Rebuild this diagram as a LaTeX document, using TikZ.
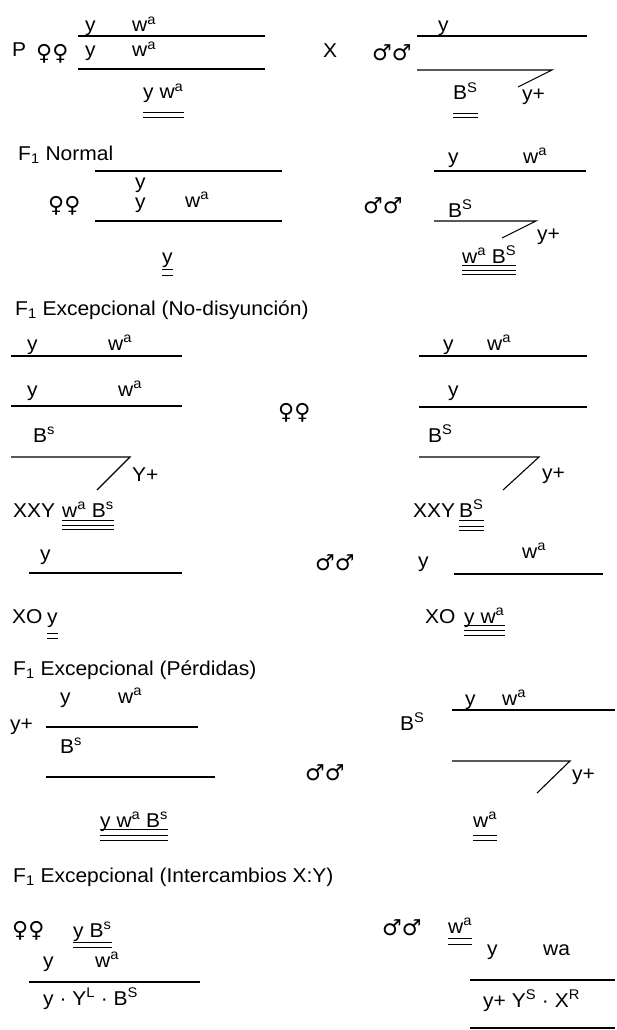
\documentclass[tikz,border=0pt]{standalone}
\usepackage{fontspec}
\setmainfont{Liberation Sans}[FakeStretch=1.05]
\newfontfamily\symf{DejaVu Sans}
\newcommand\sps[1]{\textsuperscript{#1}}
\newcommand\ulin[2]{\draw[ul] ([yshift=-#2pt]#1.base west) -- ([yshift=-#2pt]#1.base east);}
\begin{document}
\begin{tikzpicture}[x=1pt,y=-1pt,
  t/.style={anchor=base west,inner sep=0pt,font=\fontsize{20}{23}\selectfont},
  sym/.style={anchor=west,inner sep=0pt,font=\symf\fontsize{22}{26}\selectfont},
  ln/.style={line width=1.1pt},
  ul/.style={line width=0.9pt}]
\useasboundingbox (0,0) rectangle (617,1030);
% ---------- P ----------
\node[t] (P) at (12,57) {P};
\node[sym] (Pf) at (36,54) {♀♀};
\node[t] (P1) at (85,32) {y};
\node[t] (P2) at (132,32) {w\sps{a}};
\draw[ln] (78,36) -- (265,36);
\node[t] (P3) at (85,57) {y};
\node[t] (P4) at (132,57) {w\sps{a}};
\draw[ln] (78,69) -- (265,69);
\node[t] (P5) at (143,99) {y w\sps{a}};
\ulin{P5}{13} \ulin{P5}{18}
\node[t] (X) at (323,58) {X};
\node[sym] (Xm) at (372,53) {♂♂};
\node[t] (X1) at (438,32) {y};
\draw[ln] (417,36) -- (587,36);
\draw[ln] (417,70) -- (552,70) -- (518,87);
\node[t] (X2) at (453,100) {B\sps{S}};
\ulin{X2}{13} \ulin{X2}{17}
\node[t] (X3) at (522,101) {y+};
% ---------- F1 Normal ----------
\node[t] (N) at (18,160) {F\textsubscript{1} Normal};
\draw[ln] (95,171) -- (282,171);
\node[t] (N1) at (135,188) {y};
\node[t] (N2) at (135,208) {y};
\node[t] (N3) at (185,207) {w\sps{a}};
\node[sym] (Nf) at (48,206) {♀♀};
\draw[ln] (95,221) -- (282,221);
\node[t] (N4) at (162,263) {y};
\ulin{N4}{6} \ulin{N4}{12}
\node[t] (M1) at (448,163) {y};
\node[t] (M2) at (523,163) {w\sps{a}};
\draw[ln] (434,171) -- (586,171);
\node[sym] (Nm) at (363,206) {♂♂};
\node[t] (M3) at (448,217) {B\sps{S}};
\draw[ln] (434,221) -- (536,221) -- (502,238);
\node[t] (M4) at (537,240) {y+};
\node[t] (M5) at (462,263) {w\sps{a} B\sps{S}};
\ulin{M5}{2} \ulin{M5}{7} \ulin{M5}{11}
% ---------- No-disyuncion ----------
\node[t] (D) at (15,315) {F\textsubscript{1} Excepcional (No-disyunción)};
\node[t] (D1) at (27,350) {y};
\node[t] (D2) at (108,350) {w\sps{a}};
\draw[ln] (11,356) -- (182,356);
\node[t] (D3) at (27,396) {y};
\node[t] (D4) at (118,396) {w\sps{a}};
\draw[ln] (11,406) -- (182,406);
\node[t] (D5) at (33,442) {B\sps{s}};
\draw[ln] (11,457) -- (130,457) -- (97,490);
\node[t] (D6) at (132,481) {Y+};
\node[t] (D7) at (13,517) {XXY};
\node[t] (D8) at (62,517) {w\sps{a} B\sps{s}};
\ulin{D8}{3} \ulin{D8}{8} \ulin{D8}{12}
\node[sym] (Df) at (278,413) {♀♀};
\node[t] (E1) at (443,350) {y};
\node[t] (E2) at (487,350) {w\sps{a}};
\draw[ln] (419,356) -- (587,356);
\node[t] (E3) at (448,396) {y};
\draw[ln] (419,407) -- (587,407);
\node[t] (E4) at (428,442) {B\sps{S}};
\draw[ln] (419,457) -- (539,457) -- (503,490);
\node[t] (E5) at (542,479) {y+};
\node[t] (E6) at (413,517) {XXY};
\node[t] (E7) at (459,517) {B\sps{S}};
\ulin{E7}{3} \ulin{E7}{9} \ulin{E7}{13}
\node[t] (G1) at (40,560) {y};
\draw[ln] (29,573) -- (182,573);
\node[sym] (Gm) at (315,563) {♂♂};
\node[t] (G2) at (418,567) {y};
\node[t] (G3) at (522,558) {w\sps{a}};
\draw[ln] (454,574) -- (603,574);
\node[t] (G4) at (12,623) {XO};
\node[t] (G5) at (47,623) {y};
\ulin{G5}{10} \ulin{G5}{15}
\node[t] (G6) at (425,623) {XO};
\node[t] (G7) at (464,623) {y w\sps{a}};
\ulin{G7}{2} \ulin{G7}{7} \ulin{G7}{12}
% ---------- Perdidas ----------
\node[t] (L) at (13,675) {F\textsubscript{1} Excepcional (Pérdidas)};
\node[t] (L1) at (60,703) {y};
\node[t] (L2) at (118,703) {w\sps{a}};
\node[t] (L3) at (10,730) {y+};
\draw[ln] (46,727) -- (198,727);
\node[t] (L4) at (60,753) {B\sps{s}};
\draw[ln] (46,777) -- (215,777);
\node[t] (L5) at (100,827) {y w\sps{a} B\sps{s}};
\ulin{L5}{2} \ulin{L5}{8} \ulin{L5}{13}
\node[sym] (Lm) at (305,773) {♂♂};
\node[t] (R1) at (400,730) {B\sps{S}};
\node[t] (R2) at (465,705) {y};
\node[t] (R3) at (502,705) {w\sps{a}};
\draw[ln] (452,710) -- (615,710);
\draw[ln] (452,761) -- (570,761) -- (537,793);
\node[t] (R4) at (572,780) {y+};
\node[t] (R5) at (473,827) {w\sps{a}};
\ulin{R5}{8} \ulin{R5}{13}
% ---------- Intercambios ----------
\node[t] (I) at (13,882) {F\textsubscript{1} Excepcional (Intercambios X:Y)};
\node[sym] (If) at (12,931) {♀♀};
\node[t] (I1) at (73,937) {y B\sps{s}};
\ulin{I1}{5} \ulin{I1}{10}
\node[t] (I2) at (43,967) {y};
\node[t] (I3) at (95,967) {w\sps{a}};
\draw[ln] (29,982) -- (200,982);
\node[t] (I4) at (43,1005) {y · Y\sps{L} · B\sps{S}};
\node[sym] (Im) at (382,928) {♂♂};
\node[t] (J1) at (448,933) {w\sps{a}};
\ulin{J1}{5} \ulin{J1}{11}
\node[t] (J2) at (487,955) {y};
\node[t] (J3) at (543,955) {wa};
\draw[ln] (470,980) -- (615,980);
\node[t] (J4) at (483,1007) {y+ Y\sps{S} · X\sps{R}};
\draw[ln] (470,1028) -- (615,1028);
\end{tikzpicture}
\end{document}
